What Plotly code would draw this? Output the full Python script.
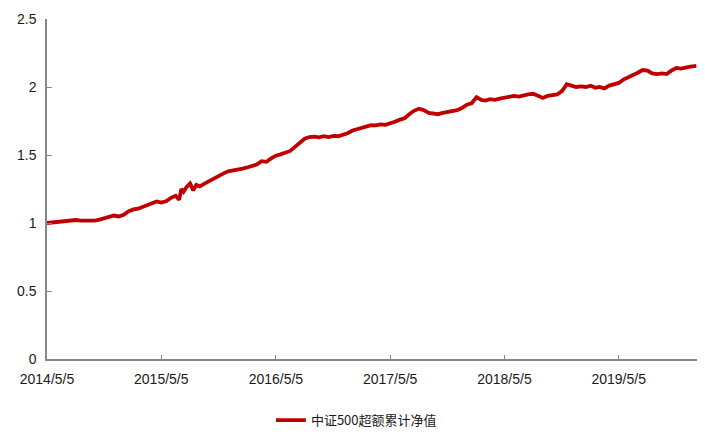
import plotly.graph_objects as go

dates = [
    "2014-05-05", "2014-05-20", "2014-06-05", "2014-06-20", "2014-07-05", "2014-07-20",
    "2014-08-05", "2014-08-20", "2014-09-05", "2014-09-20", "2014-10-05", "2014-10-20",
    "2014-11-05", "2014-11-20", "2014-12-05", "2014-12-20", "2015-01-05", "2015-01-20",
    "2015-02-05", "2015-02-20", "2015-03-05", "2015-03-20", "2015-04-05", "2015-04-20",
    "2015-05-05", "2015-05-20", "2015-06-05", "2015-06-20", "2015-07-01", "2015-07-08",
    "2015-07-15", "2015-07-25", "2015-08-05", "2015-08-15", "2015-08-25", "2015-09-05",
    "2015-09-20", "2015-10-05", "2015-10-20", "2015-11-05", "2015-11-20", "2015-12-05",
    "2015-12-20", "2016-01-05", "2016-01-20", "2016-02-05", "2016-02-20", "2016-03-05",
    "2016-03-20", "2016-04-05", "2016-04-20", "2016-05-05", "2016-05-20", "2016-06-05",
    "2016-06-20", "2016-07-05", "2016-07-20", "2016-08-05", "2016-08-20", "2016-09-05",
    "2016-09-20", "2016-10-05", "2016-10-20", "2016-11-05", "2016-11-20", "2016-12-05",
    "2016-12-20", "2017-01-05", "2017-01-20", "2017-02-05", "2017-02-20", "2017-03-05",
    "2017-03-20", "2017-04-05", "2017-04-20", "2017-05-05", "2017-05-20", "2017-06-05",
    "2017-06-20", "2017-07-05", "2017-07-20", "2017-08-05", "2017-08-20", "2017-09-05",
    "2017-09-20", "2017-10-05", "2017-10-20", "2017-11-05", "2017-11-20", "2017-12-05",
    "2017-12-20", "2018-01-05", "2018-01-20", "2018-02-05", "2018-02-20", "2018-03-05",
    "2018-03-20", "2018-04-05", "2018-04-20", "2018-05-05", "2018-05-20", "2018-06-05",
    "2018-06-20", "2018-07-05", "2018-07-20", "2018-08-05", "2018-08-20", "2018-09-05",
    "2018-09-20", "2018-10-05", "2018-10-20", "2018-11-05", "2018-11-20", "2018-12-05",
    "2018-12-20", "2019-01-05", "2019-01-20", "2019-02-05", "2019-02-20", "2019-03-05",
    "2019-03-20", "2019-04-05", "2019-04-20", "2019-05-05", "2019-05-20", "2019-06-05",
    "2019-06-20", "2019-07-05", "2019-07-20", "2019-08-05", "2019-08-20", "2019-09-05",
    "2019-09-20", "2019-10-05", "2019-10-20", "2019-11-05", "2019-11-20", "2019-12-05",
    "2019-12-20", "2020-01-08",
]

net_value = [
    1.000, 1.003, 1.006, 1.010, 1.012, 1.020,
    1.022, 1.018, 1.016, 1.020, 1.018, 1.025,
    1.038, 1.050, 1.055, 1.048, 1.060, 1.085,
    1.100, 1.105, 1.118, 1.130, 1.150, 1.158,
    1.150, 1.160, 1.185, 1.200, 1.170, 1.250,
    1.230, 1.265, 1.290, 1.240, 1.280, 1.270,
    1.290, 1.310, 1.330, 1.350, 1.365, 1.380,
    1.385, 1.395, 1.400, 1.410, 1.420, 1.430,
    1.455, 1.450, 1.475, 1.495, 1.505, 1.515,
    1.530, 1.560, 1.590, 1.620, 1.632, 1.635,
    1.630, 1.638, 1.632, 1.640, 1.638, 1.648,
    1.660, 1.680, 1.690, 1.700, 1.712, 1.720,
    1.718, 1.725, 1.722, 1.730, 1.745, 1.760,
    1.770, 1.800, 1.825, 1.840, 1.830, 1.810,
    1.805, 1.800, 1.810, 1.815, 1.820, 1.830,
    1.845, 1.870, 1.880, 1.925, 1.905, 1.900,
    1.910, 1.905, 1.915, 1.920, 1.930, 1.935,
    1.930, 1.940, 1.945, 1.950, 1.935, 1.920,
    1.935, 1.940, 1.945, 1.970, 2.020, 2.010,
    2.000, 2.005, 2.000, 2.010, 1.995, 2.000,
    1.990, 2.010, 2.020, 2.030, 2.055, 2.070,
    2.085, 2.105, 2.125, 2.120, 2.100, 2.095,
    2.100, 2.095, 2.120, 2.140, 2.135, 2.145,
    2.150, 2.155,
]

x_tick_vals = ["2014-05-05", "2015-05-05", "2016-05-05", "2017-05-05", "2018-05-05", "2019-05-05"]
x_tick_text = ["2014/5/5", "2015/5/5", "2016/5/5", "2017/5/5", "2018/5/5", "2019/5/5"]
y_tick_vals = [0, 0.5, 1, 1.5, 2, 2.5]
y_tick_text = ["0", "0.5", "1", "1.5", "2", "2.5"]
series_name = "中证500超额累计净值"

fig = go.Figure()
fig.add_trace(go.Scatter(
    x=dates, y=net_value, mode="lines", name=series_name,
    line=dict(color="#C00000", width=3.8),
))

axis_color = "#868686"
fig.update_layout(
    width=697, height=430,
    margin=dict(l=39, r=8, t=11, b=79, autoexpand=False),
    paper_bgcolor="white", plot_bgcolor="white",
    font=dict(family="Liberation Sans, Arial, sans-serif", size=14, color="#1a1a1a"),
    showlegend=True,
    legend=dict(
        orientation="h", x=0.476, xanchor="center", y=-0.18, yanchor="middle",
        font=dict(family="Noto Sans CJK SC, sans-serif", size=13, color="#1a1a1a"),
    ),
    xaxis=dict(
        type="date", range=["2014-05-05", "2020-01-10"],
        tickvals=x_tick_vals, ticktext=x_tick_text,
        showline=True, linecolor=axis_color, linewidth=1.5,
        ticks="inside", ticklen=4, tickcolor=axis_color,
        showgrid=False, zeroline=False, automargin=False,
        ticklabelstandoff=6,
        tickfont=dict(size=14),
    ),
    yaxis=dict(
        range=[0, 2.5], tickvals=y_tick_vals, ticktext=y_tick_text,
        showline=True, linecolor=axis_color, linewidth=1.5,
        ticks="inside", ticklen=5, tickcolor=axis_color,
        showgrid=False, zeroline=False, automargin=False,
        ticklabelstandoff=6,
        tickfont=dict(size=14),
    ),
)

fig.write_html("out.html")
